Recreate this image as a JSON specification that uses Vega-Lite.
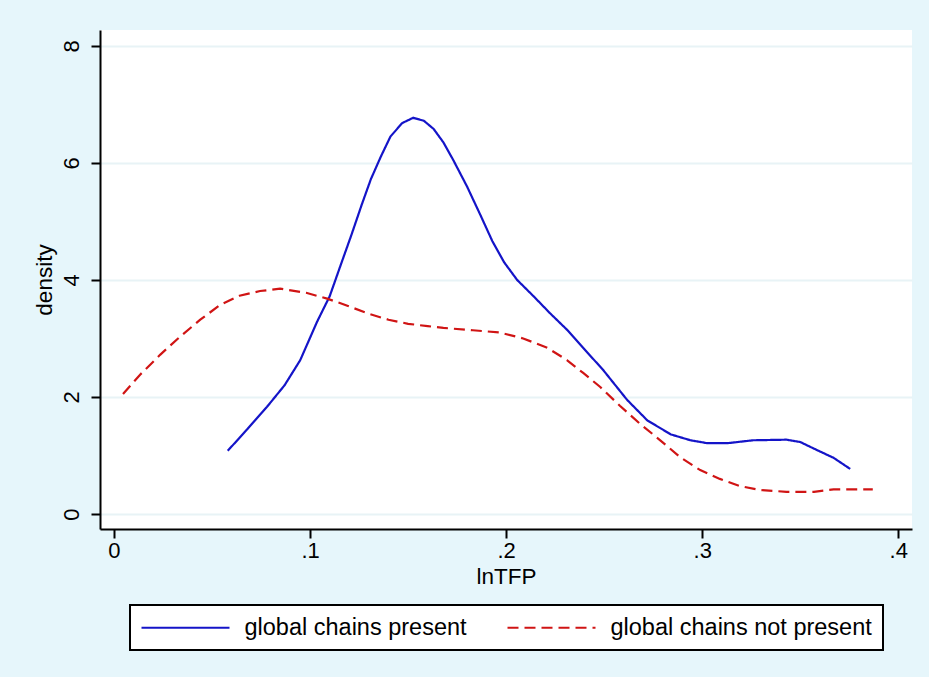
{
  "$schema": "https://vega.github.io/schema/vega-lite/v6.json",
  "autosize": "none",
  "padding": {"left": 100, "top": 30, "right": 17, "bottom": 148},
  "width": 812,
  "height": 499,
  "background": "#e6f6fb",
  "config": {
    "view": {"fill": "white", "stroke": null},
    "font": "Liberation Sans",
    "legend": {
      "orient": "none", "legendX": 30, "legendY": 575,
      "direction": "horizontal", "columns": 2, "columnPadding": 36,
      "fillColor": "white", "strokeColor": "black",
      "padding": 10.5, "symbolType": "M-1,0H7", "symbolSize": 484, "symbolStrokeWidth": 2,
      "labelFontSize": 23.5, "labelColor": "black", "labelLimit": 400, "labelOffset": 80
    }
  },
  "data": {
    "values": [
      {"x": 0.058, "y": 1.08, "s": "global chains present"},
      {"x": 0.068, "y": 1.45, "s": "global chains present"},
      {"x": 0.078, "y": 1.83, "s": "global chains present"},
      {"x": 0.087, "y": 2.2, "s": "global chains present"},
      {"x": 0.095, "y": 2.63, "s": "global chains present"},
      {"x": 0.1035, "y": 3.28, "s": "global chains present"},
      {"x": 0.11, "y": 3.72, "s": "global chains present"},
      {"x": 0.116, "y": 4.29, "s": "global chains present"},
      {"x": 0.121, "y": 4.76, "s": "global chains present"},
      {"x": 0.1265, "y": 5.3, "s": "global chains present"},
      {"x": 0.131, "y": 5.72, "s": "global chains present"},
      {"x": 0.136, "y": 6.1, "s": "global chains present"},
      {"x": 0.141, "y": 6.45, "s": "global chains present"},
      {"x": 0.147, "y": 6.68, "s": "global chains present"},
      {"x": 0.1526, "y": 6.77, "s": "global chains present"},
      {"x": 0.158, "y": 6.72, "s": "global chains present"},
      {"x": 0.163, "y": 6.58, "s": "global chains present"},
      {"x": 0.168, "y": 6.35, "s": "global chains present"},
      {"x": 0.173, "y": 6.05, "s": "global chains present"},
      {"x": 0.18, "y": 5.6, "s": "global chains present"},
      {"x": 0.187, "y": 5.1, "s": "global chains present"},
      {"x": 0.193, "y": 4.66, "s": "global chains present"},
      {"x": 0.199, "y": 4.3, "s": "global chains present"},
      {"x": 0.2056, "y": 4.0, "s": "global chains present"},
      {"x": 0.214, "y": 3.72, "s": "global chains present"},
      {"x": 0.2224, "y": 3.43, "s": "global chains present"},
      {"x": 0.231, "y": 3.15, "s": "global chains present"},
      {"x": 0.239, "y": 2.85, "s": "global chains present"},
      {"x": 0.2495, "y": 2.46, "s": "global chains present"},
      {"x": 0.2617, "y": 1.95, "s": "global chains present"},
      {"x": 0.272, "y": 1.6, "s": "global chains present"},
      {"x": 0.284, "y": 1.36, "s": "global chains present"},
      {"x": 0.294, "y": 1.26, "s": "global chains present"},
      {"x": 0.3026, "y": 1.21, "s": "global chains present"},
      {"x": 0.3128, "y": 1.21, "s": "global chains present"},
      {"x": 0.326, "y": 1.26, "s": "global chains present"},
      {"x": 0.343, "y": 1.27, "s": "global chains present"},
      {"x": 0.35, "y": 1.23, "s": "global chains present"},
      {"x": 0.3587, "y": 1.09, "s": "global chains present"},
      {"x": 0.367, "y": 0.96, "s": "global chains present"},
      {"x": 0.3755, "y": 0.77, "s": "global chains present"},
      {"x": 0.0046, "y": 2.05, "s": "global chains not present"},
      {"x": 0.0133, "y": 2.38, "s": "global chains not present"},
      {"x": 0.0235, "y": 2.72, "s": "global chains not present"},
      {"x": 0.0337, "y": 3.03, "s": "global chains not present"},
      {"x": 0.044, "y": 3.32, "s": "global chains not present"},
      {"x": 0.054, "y": 3.57, "s": "global chains not present"},
      {"x": 0.064, "y": 3.73, "s": "global chains not present"},
      {"x": 0.0745, "y": 3.81, "s": "global chains not present"},
      {"x": 0.0847, "y": 3.85, "s": "global chains not present"},
      {"x": 0.098, "y": 3.78, "s": "global chains not present"},
      {"x": 0.1087, "y": 3.68, "s": "global chains not present"},
      {"x": 0.119, "y": 3.56, "s": "global chains not present"},
      {"x": 0.13, "y": 3.42, "s": "global chains not present"},
      {"x": 0.14, "y": 3.32, "s": "global chains not present"},
      {"x": 0.15, "y": 3.25, "s": "global chains not present"},
      {"x": 0.16, "y": 3.21, "s": "global chains not present"},
      {"x": 0.168, "y": 3.18, "s": "global chains not present"},
      {"x": 0.183, "y": 3.14, "s": "global chains not present"},
      {"x": 0.197, "y": 3.1, "s": "global chains not present"},
      {"x": 0.2087, "y": 3.0, "s": "global chains not present"},
      {"x": 0.221, "y": 2.84, "s": "global chains not present"},
      {"x": 0.231, "y": 2.63, "s": "global chains not present"},
      {"x": 0.2393, "y": 2.41, "s": "global chains not present"},
      {"x": 0.248, "y": 2.17, "s": "global chains not present"},
      {"x": 0.258, "y": 1.85, "s": "global chains not present"},
      {"x": 0.268, "y": 1.55, "s": "global chains not present"},
      {"x": 0.2786, "y": 1.26, "s": "global chains not present"},
      {"x": 0.2888, "y": 0.97, "s": "global chains not present"},
      {"x": 0.299, "y": 0.75, "s": "global chains not present"},
      {"x": 0.309, "y": 0.6, "s": "global chains not present"},
      {"x": 0.319, "y": 0.48, "s": "global chains not present"},
      {"x": 0.3296, "y": 0.41, "s": "global chains not present"},
      {"x": 0.343, "y": 0.38, "s": "global chains not present"},
      {"x": 0.357, "y": 0.38, "s": "global chains not present"},
      {"x": 0.367, "y": 0.42, "s": "global chains not present"},
      {"x": 0.387, "y": 0.42, "s": "global chains not present"}
    ]
  },
  "mark": {"type": "line", "strokeWidth": 2.2, "clip": true},
  "encoding": {
    "x": {
      "field": "x", "type": "quantitative",
      "scale": {"domain": [-0.00714, 0.407], "nice": false, "zero": false},
      "axis": {
        "title": "lnTFP", "values": [0, 0.1, 0.2, 0.3, 0.4],
        "labelExpr": "datum.value == 0 ? '0' : replace(format(datum.value, '.1f'), '0.', '.')",
        "grid": false, "domainColor": "black", "domainWidth": 2,
        "tickColor": "black", "tickWidth": 2, "tickSize": 9,
        "labelFontSize": 22, "labelColor": "black", "labelPadding": 2,
        "titleFontSize": 22.5, "titleFontWeight": "normal", "titleColor": "black", "titlePadding": 4,
        "labelFlush": false
      }
    },
    "y": {
      "field": "y", "type": "quantitative",
      "scale": {"domain": [-0.256, 8.27], "nice": false, "zero": false},
      "axis": {
        "title": "density", "values": [0, 2, 4, 6, 8],
        "grid": true, "gridColor": "#e8f3f6", "gridWidth": 2,
        "domainColor": "black", "domainWidth": 2,
        "tickColor": "black", "tickWidth": 2, "tickSize": 9,
        "labelFontSize": 22, "labelColor": "black", "labelAngle": 270, "labelPadding": 8,
        "labelAlign": "center", "labelBaseline": "bottom",
        "titleFontSize": 22.5, "titleFontWeight": "normal", "titleColor": "black", "titlePadding": 4,
        "labelFlush": false
      }
    },
    "color": {
      "field": "s", "type": "nominal",
      "scale": {"domain": ["global chains present", "global chains not present"], "range": ["#1414c8", "#d01414"]},
      "legend": {"title": null, "encode": {"legend": {"update": {"strokeWidth": {"value": 2}}}}}
    },
    "strokeDash": {
      "field": "s", "type": "nominal",
      "scale": {"domain": ["global chains present", "global chains not present"], "range": [[1, 0], [11, 6]]},
      "legend": {"title": null, "encode": {"legend": {"update": {"strokeWidth": {"value": 2}}}}}
    }
  }
}
